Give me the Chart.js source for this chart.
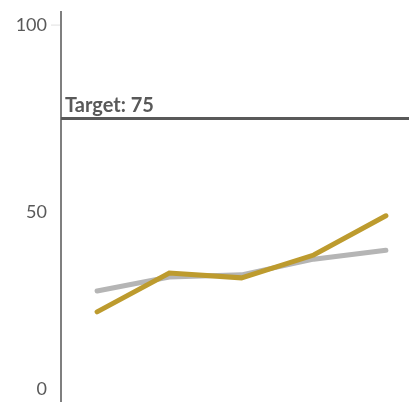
<!DOCTYPE html>
<html>
<head>
<meta charset="utf-8">
<script src="https://cdn.jsdelivr.net/npm/chart.js@4.4.1/dist/chart.umd.min.js"></script>
<style>
  html, body { margin: 0; padding: 0; background: #ffffff; }
  #wrap { width: 409px; height: 402px; position: relative; }
</style>
</head>
<body>
<div id="wrap"><canvas id="chart"></canvas></div>
<script>
// Chart data
const periods = [1, 2, 3, 4, 5];
const actualValues = [23.3, 33.7, 32.4, 38.5, 49.0];
const trendValues = [28.9, 32.6, 33.2, 37.4, 39.8];
const yTickValues = [0, 50, 100];
const targetValue = 75;
const targetLabel = 'Target: 75';

const TEXT_GRAY = '#595959';
const FONT = "Lato, 'Open Sans', sans-serif";

/**
 * Draws the target line, its label and the y tick labels
 */
const targetPlugin = {
  id: 'targetPlugin',
  afterDatasetsDraw(chart) {
    const ctx = chart.ctx;
    const y = chart.scales.y;
    const area = chart.chartArea;
    const ty = y.getPixelForValue(targetValue);

    ctx.save();
    ctx.strokeStyle = TEXT_GRAY;
    ctx.lineWidth = 3;
    ctx.beginPath();
    ctx.moveTo(area.left, ty);
    ctx.lineTo(chart.width, ty);
    ctx.stroke();

    ctx.fillStyle = TEXT_GRAY;
    ctx.font = "bold 20px " + FONT;
    ctx.textAlign = 'left';
    ctx.textBaseline = 'alphabetic';
    ctx.fillText(targetLabel, area.left + 4, ty - 7);

    // y tick labels, kept inside the canvas
    ctx.font = "18px " + FONT;
    ctx.textAlign = 'right';
    ctx.textBaseline = 'middle';
    yTickValues.forEach(v => {
      const py = Math.min(y.getPixelForValue(v), chart.height - 13);
      ctx.fillText(String(v), 47, py);
    });

    // small faint tick at the top value
    ctx.strokeStyle = '#e0e0e0';
    ctx.lineWidth = 1;
    ctx.beginPath();
    ctx.moveTo(51, y.getPixelForValue(100));
    ctx.lineTo(area.left - 1, y.getPixelForValue(100));
    ctx.stroke();
    ctx.restore();
  }
};

new Chart(document.getElementById('chart'), {
  type: 'line',
  data: {
    datasets: [
      {
        label: 'Actual',
        data: periods.map((p, i) => ({ x: p, y: actualValues[i] })),
        borderColor: '#BD9B2E',
        borderWidth: 5,
        borderCapStyle: 'round',
        pointRadius: 0,
        tension: 0,
        order: 1
      },
      {
        label: 'Trend',
        data: periods.map((p, i) => ({ x: p, y: trendValues[i] })),
        borderColor: '#B5B5B5',
        borderWidth: 5,
        borderCapStyle: 'round',
        pointRadius: 0,
        tension: 0,
        order: 2
      }
    ]
  },
  options: {
    responsive: true,
    maintainAspectRatio: false,
    animation: false,
    layout: { padding: { top: 12, right: 0, bottom: 0, left: 0 } },
    plugins: {
      legend: { display: false },
      tooltip: { enabled: false }
    },
    scales: {
      x: {
        type: 'linear',
        min: 0.5,
        max: 5.32,
        display: false
      },
      y: {
        min: -0.8,
        max: 103.5,
        grid: { display: false, drawTicks: false },
        border: { display: true, color: '#7f7f7f', width: 2 },
        ticks: { display: false },
        afterFit(scale) { scale.width = 61; }
      }
    }
  },
  plugins: [targetPlugin]
});
</script>
</body>
</html>
